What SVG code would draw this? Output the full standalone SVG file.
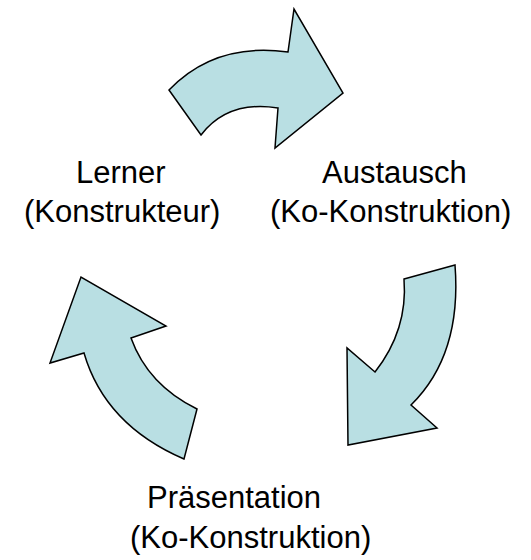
<svg xmlns="http://www.w3.org/2000/svg" width="531" height="560" viewBox="0 0 531 560">
<style>
.arrow{fill:#B9DFE3;stroke:#000;stroke-width:1.5;stroke-linejoin:miter}
.lbl{font-family:"Liberation Sans",Arial,sans-serif;font-size:31px;fill:#000}
</style>
<rect width="531" height="560" fill="#fff"/>
<g id="connectors">
<path id="arrow-top" class="arrow" d="M169,90 Q215,42 288,52 L294,9 L343,93 L275,148 L278,108 Q228,100 201,135 Z"/>
<path id="arrow-right" class="arrow" d="M404,279 L455,265 Q462,355 411,405 L437,428 L348,445 L347,348 L375,372 Q408,330 404,279 Z"/>
<path id="arrow-left" class="arrow" d="M197,409 L184,459 Q105,425 84,353 L50,363 L81,277 L166,326 L131,338 Q148,385 197,409 Z"/>
</g>
<g id="node-lerner">
<text class="lbl" x="76" y="183">Lerner</text>
<text class="lbl" x="24" y="222">(Konstrukteur)</text>
</g>
<g id="node-austausch">
<text class="lbl" x="322" y="183">Austausch</text>
<text class="lbl" x="270" y="222">(Ko-Konstruktion)</text>
</g>
<g id="node-praesentation">
<text class="lbl" x="147" y="508">Präsentation</text>
<text class="lbl" x="130" y="548">(Ko-Konstruktion)</text>
</g>
</svg>
